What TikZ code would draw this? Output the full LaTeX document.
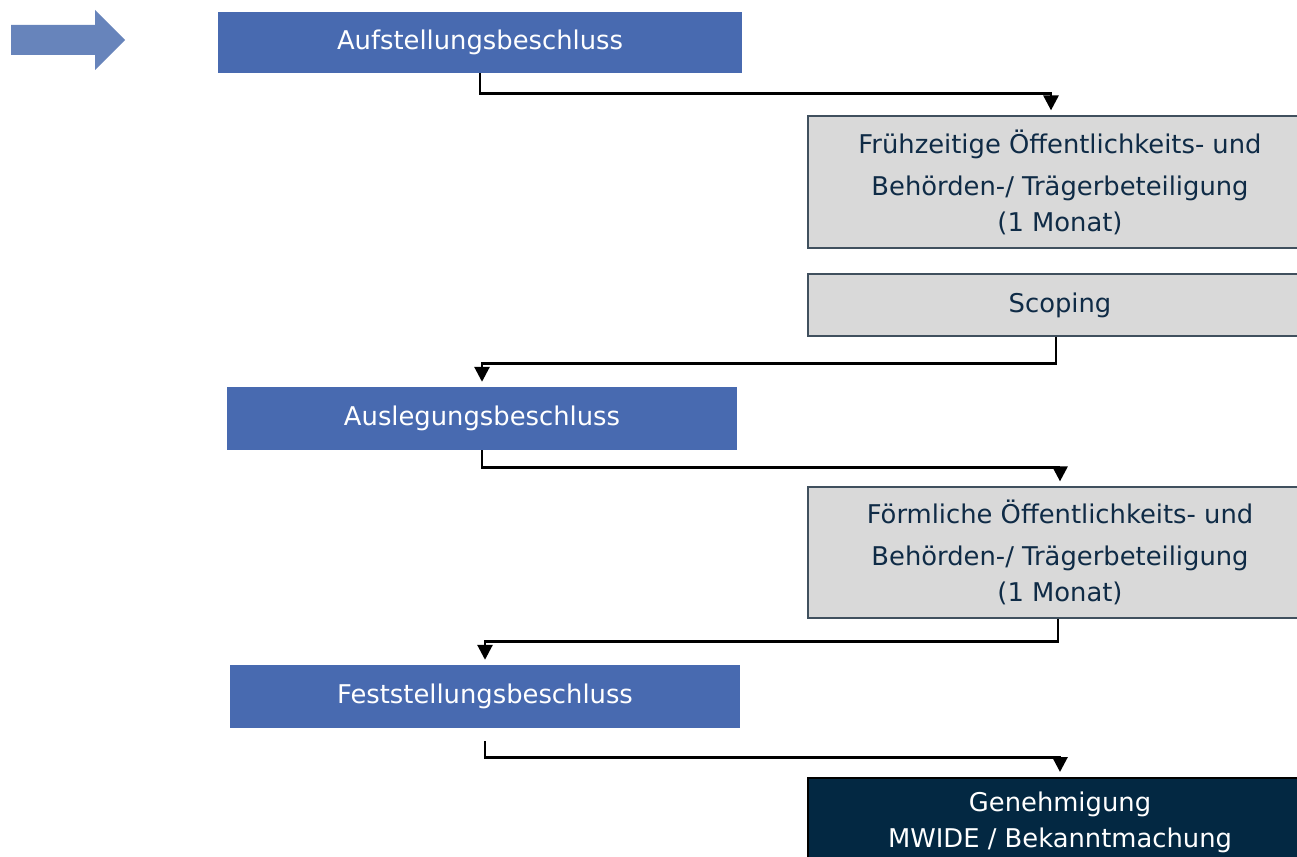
\documentclass[tikz,border=0pt]{standalone}
\usepackage{fontspec}
\setmainfont{DejaVu Sans}
\usetikzlibrary{arrows.meta}
\definecolor{PlanBlue}{HTML}{486AB0}
\definecolor{PlanArrow}{HTML}{6784BB}
\definecolor{PlanGray}{HTML}{D9D9D9}
\definecolor{PlanEdge}{HTML}{40505E}
\definecolor{PlanNavy}{HTML}{032842}
\definecolor{PlanInk}{HTML}{0F2B46}

\begin{document}
\begin{tikzpicture}[x=1pt, y=1pt, font=\fontsize{25.8}{36}\selectfont,
  decision/.style={fill=PlanBlue, text=white, inner sep=0pt, minimum width=512pt, minimum height=62pt, align=center},
  stage/.style={fill=PlanGray, draw=PlanEdge, line width=1.2pt, text=PlanInk, inner sep=0pt, minimum width=504pt, align=center},
  final/.style={fill=PlanNavy, draw=black, line width=2pt, text=white, inner xsep=0pt, inner ysep=14pt, minimum width=504pt, align=center},
  flow/.style={-{Triangle[length=15pt,width=15pt]}, line width=2.8pt, shorten >=5pt}]
  \useasboundingbox (0,0) rectangle (1297,-856);
  \fill[PlanArrow] (11,-25) -- (95,-25) -- (95,-10) -- (125,-40) -- (95,-70) -- (95,-55) -- (11,-55) -- cycle;
  \node[decision, minimum width=524pt, minimum height=61pt] (auf) at (480,-42.5) {Aufstellungsbeschluss};
  \node[stage, minimum height=132pt] (fru) at (1060,-182) {Frühzeitige Öffentlichkeits- und\\[6pt] Behörden-/ Trägerbeteiligung\\ (1 Monat)};
  \node[stage, minimum height=62pt] (sco) at (1060,-305) {Scoping};
  \node[decision, minimum width=510pt, minimum height=63pt] (aus) at (482,-418.5) {Auslegungsbeschluss};
  \node[stage, minimum height=131pt] (for) at (1060,-552.5) {Förmliche Öffentlichkeits- und\\[6pt] Behörden-/ Trägerbeteiligung\\ (1 Monat)};
  \node[decision, minimum width=510pt, minimum height=63pt] (fes) at (485,-696.5) {Feststellungsbeschluss};
  \node[final, anchor=north] (gen) at (1060,-777) {Genehmigung\\ MWIDE / Bekanntmachung\\ \strut};
  \draw[flow] (auf.south) -- ++(0,-20) -| ([xshift=-9pt]fru.north);
  \draw[flow] ([xshift=-4pt]sco.south) -- ++(0,-27) -| (aus.north);
  \draw[flow] (aus.south) -- ++(0,-17) -| (for.north);
  \draw[flow] ([xshift=-2pt]for.south) -- ++(0,-23) -| (fes.north);
  \draw[flow] ([yshift=-13pt]fes.south) -- ++(0,-16) -| (gen.north);
\end{tikzpicture}
\end{document}
